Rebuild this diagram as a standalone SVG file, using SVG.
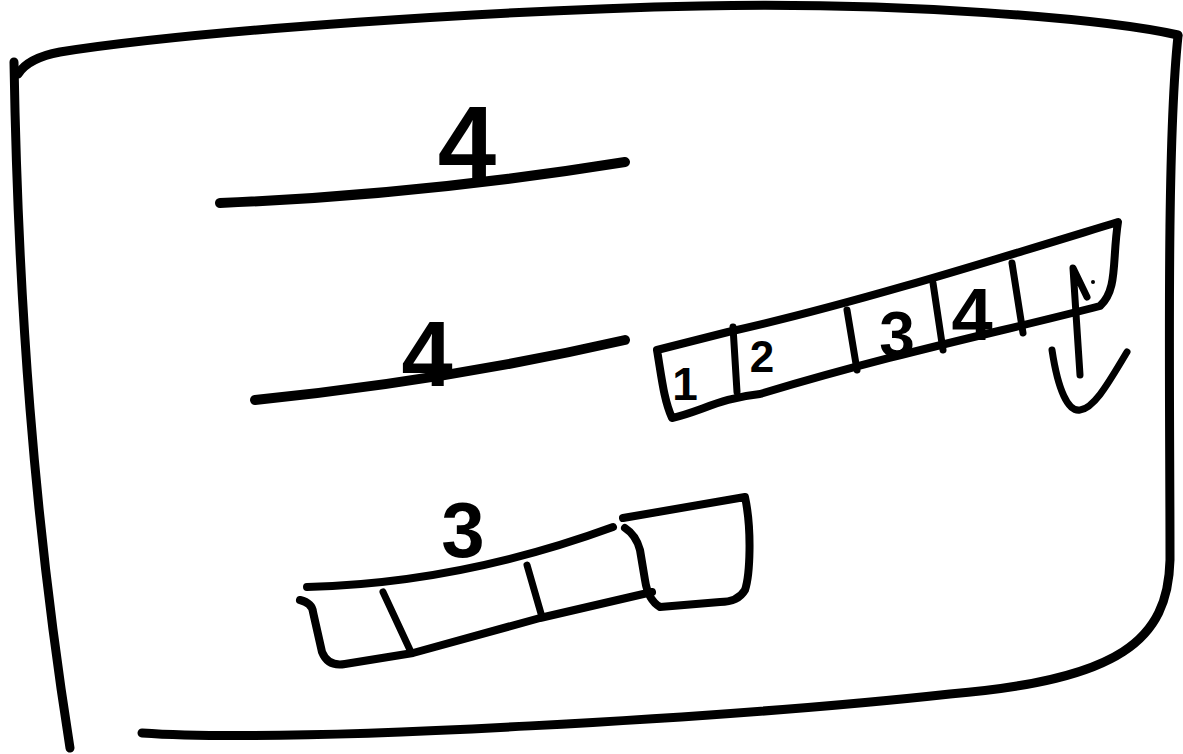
<svg xmlns="http://www.w3.org/2000/svg" width="1183" height="754" viewBox="0 0 1183 754">
<style>
.ink{fill:none;stroke:#000;stroke-linecap:round;stroke-linejoin:round}
.f{stroke-width:9}
.t{stroke-width:10}
.m{stroke-width:8}
.d{stroke-width:7}
.n{font-family:"Liberation Sans",Arial,sans-serif;font-weight:bold;fill:#000;text-anchor:middle}
</style>
<rect width="1183" height="754" fill="#fff"/>
<g id="frame">
<path class="ink f" d="M14,62 C18,300 34,520 70,748"/>
<path class="ink f" d="M18,74 Q28,58 60,52 C200,30 500,10 700,6 C900,2 1100,18 1178,35"/>
<path class="ink f" d="M1178,36 C1166,150 1170,400 1170,560 C1168,640 1120,680 950,694 C750,716 300,744 142,733"/>
</g>
<g id="line-top">
<path class="ink t" d="M220,203 Q420,195 625,162"/>
<text class="n" x="467" y="180" font-size="105">4</text>
</g>
<g id="line-mid">
<path class="ink t" d="M255,400 Q450,380 625,340"/>
<text class="n" x="427" y="386" font-size="92">4</text>
</g>
<g id="strip">
<path class="ink m" d="M657,350 L728,332 C850,305 1000,258 1118,222 C1112,260 1118,290 1100,306 C1000,332 900,352 760,394 C720,398 700,412 672,418 C664,400 662,380 657,350 Z"/>
<path class="ink d" d="M733,327 L737,392"/>
<path class="ink d" d="M847,310 L857,370"/>
<path class="ink d" d="M933,283 L943,350"/>
<path class="ink d" d="M1012,263 L1023,333"/>
<text class="n" x="685" y="400" font-size="46">1</text>
<text class="n" x="762" y="372" font-size="44">2</text>
<text class="n" x="897" y="357" font-size="64">3</text>
<text class="n" x="972" y="340" font-size="74">4</text>
<path class="ink d" d="M1080,375 L1073,268 L1087,297"/>
<circle cx="1093" cy="282" r="2" fill="#000"/>
<path class="ink d" d="M1052,350 C1058,390 1068,412 1080,410 C1095,408 1110,380 1127,352"/>
</g>
<g id="bottom-strip">
<path class="ink m" d="M307,587 Q460,583 613,527"/>
<text class="n" x="463" y="557" font-size="78">3</text>
<path class="ink m" d="M300,600 Q312,603 313,612 L322,652 Q328,667 345,664 L413,653 L540,618 L652,592"/>
<path class="ink d" d="M383,592 L410,650"/>
<path class="ink d" d="M527,565 L542,617"/>
<path class="ink m" d="M623,518 L745,497 C752,530 750,575 745,590 Q738,602 720,602 L660,607 Q648,600 645,580 L640,550 Q636,535 625,528"/>
</g>
</svg>
